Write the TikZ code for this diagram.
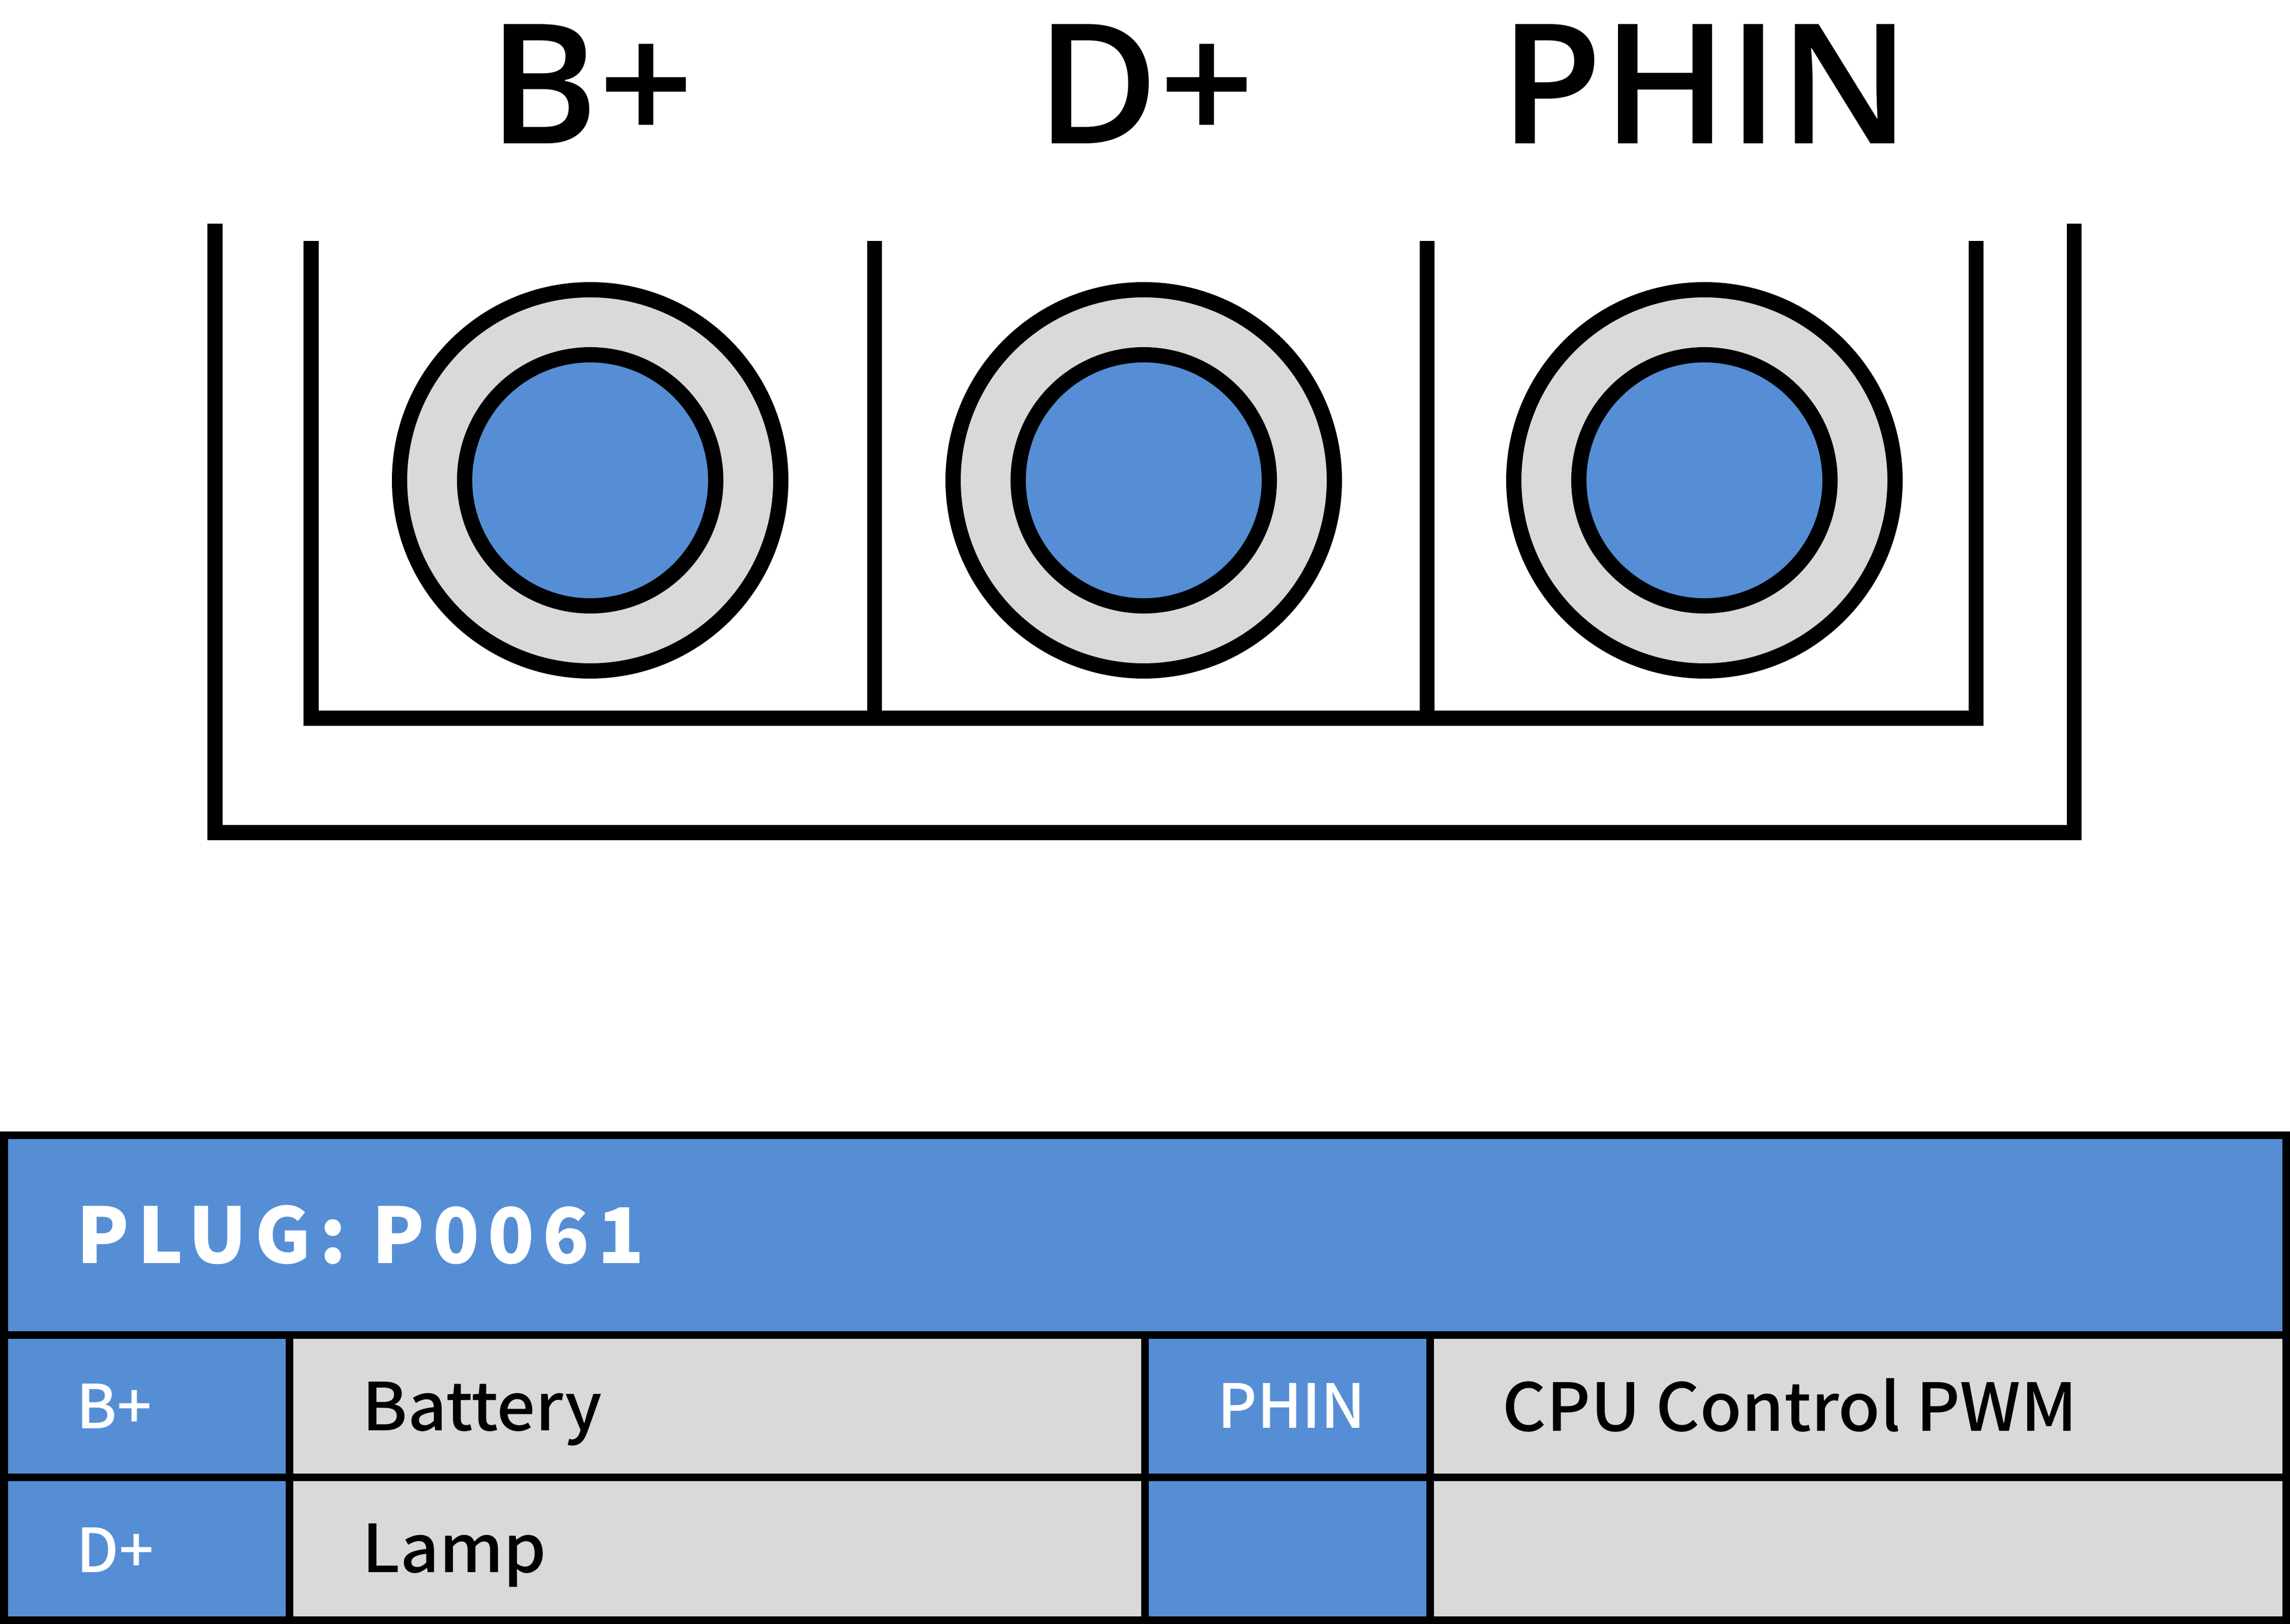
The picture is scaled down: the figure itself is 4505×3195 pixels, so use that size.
\documentclass[tikz,border=0pt]{standalone}
\usepackage{fontspec}
\setmainfont{Noto Sans CJK SC Medium}
\newfontfamily\semifont{Open Sans Semibold}
\newfontfamily\titlefont{Noto Sans CJK SC}
\definecolor{pinblue}{HTML}{558ED5}
\definecolor{pingray}{HTML}{D9D9D9}
\tikzset{
    bracket/.style={line width=0.29cm,miter limit=10},
    socket/.style={line width=0.30cm},
    grid/.style={line width=0.15cm},
    pinlabel/.style={anchor=base west,inner sep=0,font=\semifont\fontsize{93.5}{94}\selectfont},
    titlelabel/.style={anchor=base west,inner sep=0,text=white,font=\titlefont\bfseries\fontsize{43}{43}\selectfont\addfontfeature{LetterSpace=10.5}},
    keylabel/.style={anchor=base west,inner sep=0,text=white,font=\fontsize{34}{34}\selectfont},
    textlabel/.style={anchor=base west,inner sep=0,font=\fontsize{37}{37}\selectfont\addfontfeature{FakeStretch=1.03}}
}

\begin{document}
\begin{tikzpicture}[x=0.01cm,y=-0.01cm]
    \useasboundingbox (0,0) rectangle (4505,3195);
    \node[pinlabel] (b) at (960,283) {B+};
    \node[pinlabel] (d) at (2038,283) {D+};
    \node[pinlabel] (phin) at (2950,283) {PHIN};
    \draw[bracket] (423,440) -- (423,1638) -- (4080,1638) -- (4080,440);
    \draw[bracket] (612,474) -- (612,1413) -- (3887,1413) -- (3887,474);
    \draw[bracket] (1720,474) -- (1720,1413);
    \draw[bracket] (2807,474) -- (2807,1413);
    \foreach \cx in {1161,2250,3353} {
        \filldraw[socket,fill=pingray] (\cx,945) circle[radius=375];
        \filldraw[socket,fill=pinblue] (\cx,945) circle[radius=247];
    }
    \fill[pinblue] (8,2233) rectangle (4497,2626);
    \fill[pinblue] (8,2626) rectangle (569,3187);
    \fill[pinblue] (2252,2626) rectangle (2813,3187);
    \fill[pingray] (569,2626) rectangle (2252,3187);
    \fill[pingray] (2813,2626) rectangle (4497,3187);
    \draw[grid] (8,2233) rectangle (4497,3187);
    \draw[grid] (8,2626) -- (4497,2626);
    \draw[grid] (8,2906) -- (4497,2906);
    \draw[grid] (569,2626) -- (569,3187);
    \draw[grid] (2252,2626) -- (2252,3187);
    \draw[grid] (2813,2626) -- (2813,3187);
    \node[titlelabel] (plug) at (150,2485) {PLUG: P0061};
    \node[keylabel] (kb) at (150,2810) {B+};
    \node[keylabel] (kd) at (150,3093) {D+};
    \node[keylabel] (kphin) at (2395,2809) {PHIN};
    \node[textlabel] (battery) at (712,2814) {Battery};
    \node[textlabel] (lamp) at (712,3093) {Lamp};
    \node[textlabel] (cpu) at (2955,2815) {CPU Control PWM};
\end{tikzpicture}
\end{document}
